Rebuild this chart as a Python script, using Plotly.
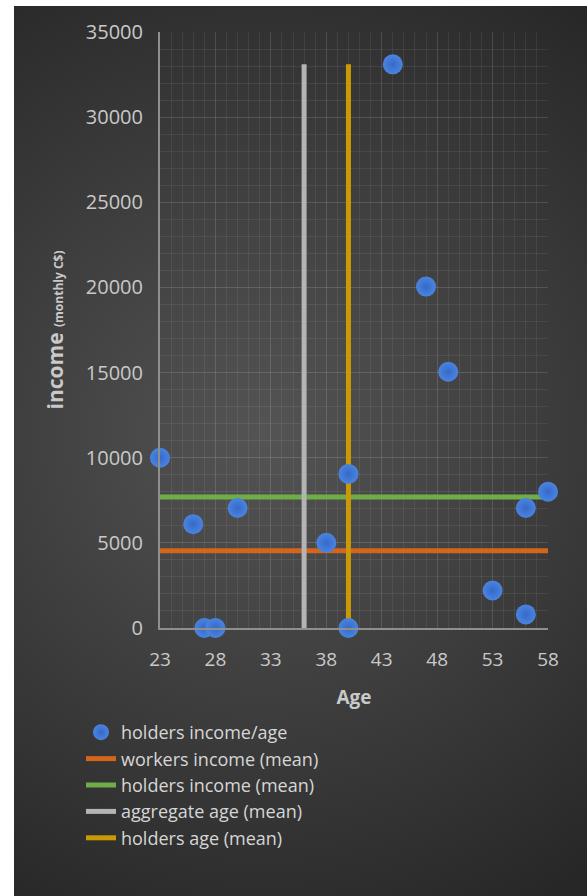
import base64
import plotly.graph_objects as go

# Holders: age vs monthly income (C$)
holder_age = [23, 26, 27, 28, 30, 38, 40, 40, 44, 47, 49, 53, 56, 56, 58]
holder_income = [10000, 6100, 0, 0, 7050, 5000, 0, 9050, 33100, 20050, 15050, 2200, 800, 7050, 8000]

# Reference means
workers_income_mean = 4540
holders_income_mean = 7700
aggregate_age_mean = 36.0
holders_age_mean = 40.0

age_range = [23, 58]
income_top = 33100

x_ticks = [23, 28, 33, 38, 43, 48, 53, 58]
y_ticks = [0, 5000, 10000, 15000, 20000, 25000, 30000, 35000]
y_tick_text = [str(v) for v in y_ticks]

W, H = 587, 896
L, R, T, B = 160, 39, 32, 268
pw, ph = W - L - R, H - T - B

FONT = "Open Sans"
TXT = "#c9c9c9"

# radial-gradient panel behind the chart
panel_w, panel_h = W - 14, H - 6
svg = f"""<svg xmlns='http://www.w3.org/2000/svg' width='{panel_w}' height='{panel_h}'>
<defs><radialGradient id='g' gradientUnits='userSpaceOnUse' cx='250' cy='430' r='540'>
<stop offset='0' stop-color='#545454'/><stop offset='1' stop-color='#272727'/></radialGradient></defs>
<rect width='{panel_w}' height='{panel_h}' fill='url(#g)'/></svg>"""
bg_src = "data:image/svg+xml;base64," + base64.b64encode(svg.encode()).decode()

fig = go.Figure()

fig.add_trace(go.Scatter(
    x=age_range, y=[workers_income_mean] * 2, mode="lines",
    line=dict(color="#D5651A", width=5), name="workers income (mean)",
    legendrank=2, cliponaxis=False))
fig.add_trace(go.Scatter(
    x=age_range, y=[holders_income_mean] * 2, mode="lines",
    line=dict(color="#70AD47", width=5), name="holders income (mean)",
    legendrank=3, cliponaxis=False))
fig.add_trace(go.Scatter(
    x=[aggregate_age_mean] * 2, y=[0, income_top], mode="lines",
    line=dict(color="#B4B4B4", width=5), name="aggregate age (mean)",
    legendrank=4, cliponaxis=False))
fig.add_trace(go.Scatter(
    x=[holders_age_mean] * 2, y=[0, income_top], mode="lines",
    line=dict(color="#C99A06", width=5), name="holders age (mean)",
    legendrank=5, cliponaxis=False))
fig.add_trace(go.Scatter(
    x=holder_age, y=holder_income, mode="markers", name="holders income/age",
    marker=dict(size=20, color="#4A84E0", line=dict(width=0),
                gradient=dict(type="radial", color="#3669C9")),
    legendrank=1, cliponaxis=False))

grid = "rgba(255,255,255,0.07)"
fig.update_xaxes(
    range=age_range, tickmode="array", tickvals=x_ticks,
    showgrid=True, gridcolor=grid, gridwidth=1,
    minor=dict(dtick=1, tick0=23, showgrid=True, gridcolor=grid, gridwidth=1),
    showline=True, linecolor="#8f8f8f", linewidth=2, zeroline=False,
    ticks="", ticklabelstandoff=13,
    tickfont=dict(family=FONT, size=19, color=TXT),
    title=dict(text="<b>Age</b>", font=dict(family=FONT, size=19, color=TXT), standoff=20))
fig.update_yaxes(
    range=[0, 35000], tickmode="array", tickvals=y_ticks, ticktext=y_tick_text,
    showgrid=True, gridcolor=grid, gridwidth=1,
    minor=dict(dtick=1000, tick0=0, showgrid=True, gridcolor=grid, gridwidth=1),
    showline=True, linecolor="#8f8f8f", linewidth=2, zeroline=False,
    ticks="", ticklabelstandoff=11,
    tickfont=dict(family=FONT, size=20, color=TXT),
    title=dict(text="<b>income</b> <span style='font-size:12px'><b>(monthly C$)</b></span>",
               font=dict(family=FONT, size=21, color=TXT), standoff=16))

fig.update_layout(
    width=W, height=H,
    margin=dict(l=L, r=R, t=T, b=B, pad=0),
    paper_bgcolor="white", plot_bgcolor="rgba(0,0,0,0)",
    images=[dict(source=bg_src, xref="paper", yref="paper",
                 x=(14 - L) / pw, y=(H - B - 6) / ph,
                 sizex=panel_w / pw, sizey=panel_h / ph,
                 xanchor="left", yanchor="top", sizing="stretch", layer="below")],
    legend=dict(x=(81 - L) / pw, y=(H - B - 714) / ph, xanchor="left", yanchor="top",
                bgcolor="rgba(0,0,0,0)", font=dict(family=FONT, size=18, color="#d6d6d6"),
                traceorder="normal"),
    showlegend=True,
)

fig.write_html("out.html")
